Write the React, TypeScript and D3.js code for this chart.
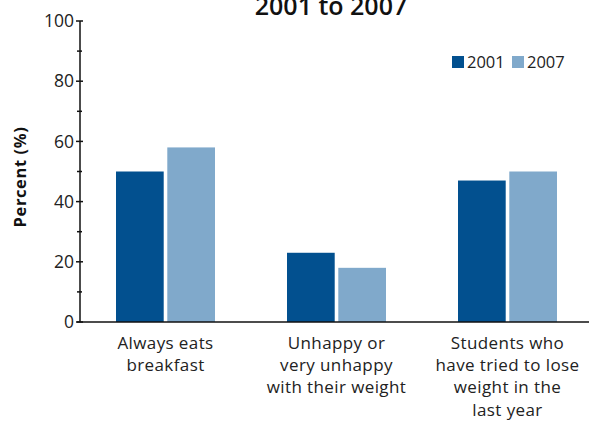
import { useEffect, useRef } from "react"
import * as d3 from "d3"

const categories = [
  ["Always eats", "breakfast"],
  ["Unhappy or", "very unhappy", "with their weight"],
  ["Students who", "have tried to lose", "weight in the", "last year"],
]
const series = ["2001", "2007"]
const values2001 = [50, 23, 47]
const values2007 = [58, 18, 50]
const yTicks = [0, 20, 40, 60, 80, 100]
const yMinor = [10, 30, 50, 70, 90]
const colors = ["#02508f", "#80a9cb"]

export default function App() {
  const ref = useRef<SVGSVGElement>(null)

  useEffect(() => {
    const W = 589
    const H = 421
    const font = "'Open Sans', sans-serif"
    const svg = d3.select(ref.current)
    svg.selectAll("*").remove()
    svg.attr("width", W).attr("height", H)
      .style("position", "absolute").style("left", 0).style("top", 0)

    const x = d3.scaleBand<number>().domain([0, 1, 2]).range([80, 593])
    const x1 = d3.scaleBand<string>().domain(series).range([0, 99]).paddingInner(0.07)
    const y = d3.scaleLinear().domain([0, 100]).range([322, 21])

    // title (cut off at the top)
    svg.append("text")
      .attr("x", 331).attr("y", 15)
      .attr("text-anchor", "middle")
      .attr("font-family", font).attr("font-weight", 600).attr("font-size", 25)
      .attr("fill", "#111")
      .text("2001 to 2007")

    // bars
    const data = [values2001, values2007]
    data.forEach((vals, si) => {
      svg.append("g").selectAll("rect").data(vals).join("rect")
        .attr("x", (_, i) => (x(i) as number) + 85.5 - 49.5 + (x1(series[si]) as number))
        .attr("y", d => y(d))
        .attr("width", x1.bandwidth())
        .attr("height", d => y(0) - y(d))
        .attr("fill", colors[si])
    })

    // y axis
    const ax = svg.append("g").attr("stroke", "#111").attr("stroke-width", 1.5)
    ax.append("line").attr("x1", 80).attr("x2", 80).attr("y1", y(100)).attr("y2", y(0))
    ax.append("line").attr("x1", 77).attr("x2", 589).attr("y1", y(0)).attr("y2", y(0))
    ax.selectAll(".maj").data(yTicks).join("line")
      .attr("x1", 76).attr("x2", 83).attr("y1", d => y(d)).attr("y2", d => y(d))
    ax.selectAll(".min").data(yMinor).join("line")
      .attr("class", "min")
      .attr("x1", 77).attr("x2", 82).attr("y1", d => y(d)).attr("y2", d => y(d))

    svg.append("g").selectAll("text").data(yTicks).join("text")
      .attr("x", 74).attr("y", d => y(d))
      .attr("dy", "0.35em")
      .attr("text-anchor", "end")
      .attr("font-family", font).attr("font-size", 17.5).attr("fill", "#222")
      .text(d => d)

    svg.append("text")
      .attr("transform", `translate(26,${177}) rotate(-90)`)
      .attr("text-anchor", "middle")
      .attr("font-family", font).attr("font-weight", "bold").attr("font-size", 16.5)
      .attr("letter-spacing", 0.6)
      .attr("fill", "#111")
      .text("Percent (%)")

    // category labels
    categories.forEach((lines, i) => {
      const cx = (x(i) as number) + x.bandwidth() / 2
      svg.append("text")
        .attr("text-anchor", "middle")
        .attr("font-family", font).attr("font-size", 17).attr("letter-spacing", 0.4)
        .attr("fill", "#222")
        .selectAll("tspan").data(lines).join("tspan")
        .attr("x", cx)
        .attr("y", (_, j) => 349 + j * 22.2)
        .text(d => d)
    })

    // legend
    const lg = svg.append("g")
    const lx = [452, 512]
    series.forEach((s, i) => {
      lg.append("rect").attr("x", lx[i]).attr("y", 56).attr("width", 12).attr("height", 12).attr("fill", colors[i])
      lg.append("text").attr("x", lx[i] + 15).attr("y", 68)
        .attr("font-family", font).attr("font-size", 16.5).attr("fill", "#222")
        .text(s)
    })
  }, [])

  return <svg ref={ref}></svg>
}
